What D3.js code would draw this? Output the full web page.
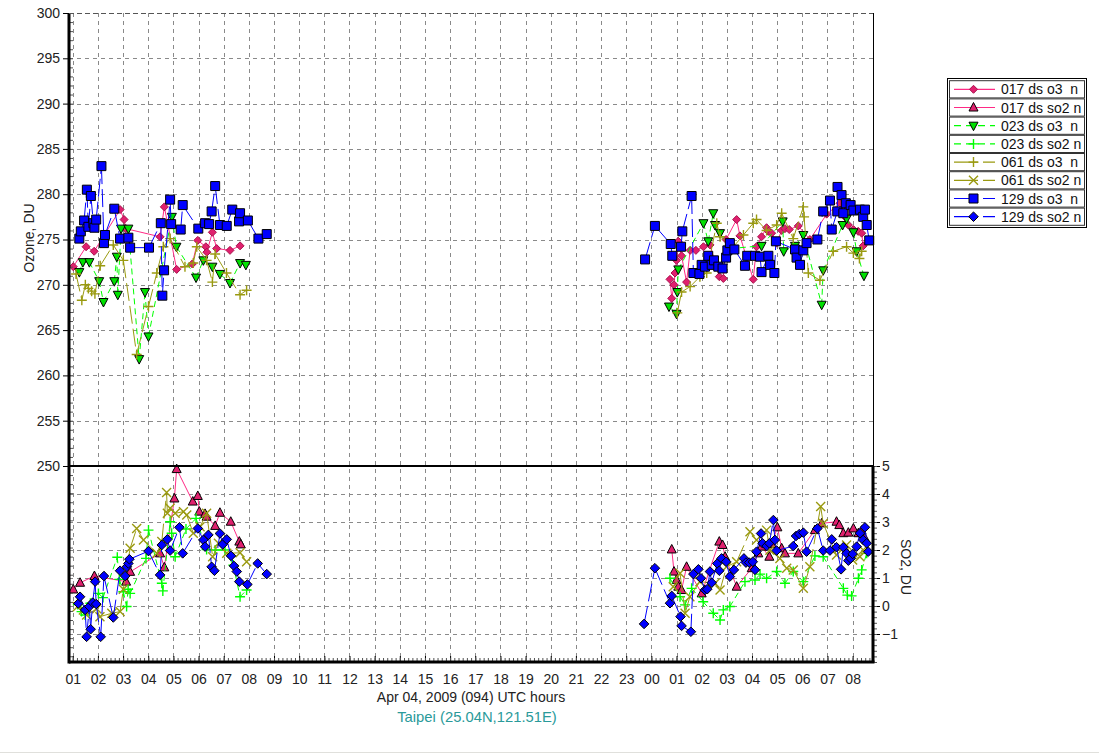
<!DOCTYPE html>
<html>
<head>
<meta charset="utf-8">
<script src="https://cdn.jsdelivr.net/npm/d3@7"></script>
<style>
body { margin: 0; background: #fff; }
text { font-family: "Liberation Sans", Arial, sans-serif; }
</style>
</head>
<body>
<div id="chart"></div>
<script>
const width = 1099;
const height = 753;

// hours since Apr 04 00 UTC, value
const o3_017 = [[1.02,272.0],[1.53,274.2],[1.85,273.7],[2.88,278.3],[3.04,277.2],[3.11,276.2],[4.47,275.3],[4.64,278.6],[5.13,271.7],[5.75,272.3],[5.97,274.9],[6.29,274.2],[6.33,273.6],[6.55,275.8],[6.72,274.0],[7.25,273.8],[7.65,274.3],
  [24.74,270.6],[24.81,268.5],[24.90,270.0],[24.94,271.3],[25.00,272.7],[25.07,274.8],[25.20,273.2],[25.40,270.3],[25.54,273.8],[25.77,273.8],[26.07,274.2],[26.33,274.4],[26.70,270.9],[26.86,270.7],[26.97,275.0],[27.39,277.2],[27.52,275.4],[28.05,270.6],[28.18,274.2],[28.38,275.3],[28.58,276.3],[28.65,275.9],[28.78,275.7],[28.98,274.6],[29.18,276.0],[29.31,276.2],[29.48,276.1],[29.84,276.5],[30.30,275.0],[30.97,277.8],[31.50,279.0],[31.70,277.5],[31.83,276.6],[32.03,276.1],[32.22,275.9],[32.36,275.7],[32.42,274.3]];

const so2_017 = [[1.02,0.59],[1.29,0.83],[1.86,1.07],[3.12,0.87],[3.28,1.22],[4.47,1.88],[4.64,1.38],[5.04,3.84],[5.13,4.89],[5.77,3.73],[5.97,3.93],[6.03,3.37],[6.26,3.29],[6.32,3.19],[6.66,2.86],[6.85,3.33],[7.28,3.01],[7.62,2.30],[7.68,2.20],
  [24.81,2.02],[24.90,1.23],[25.00,0.93],[25.07,0.69],[25.20,0.57],[25.40,1.40],[26.00,0.45],[26.70,2.30],[26.83,2.18],[26.93,1.76],[27.39,0.69],[27.99,1.35],[28.25,1.88],[28.38,2.12],[28.69,1.76],[28.78,2.21],[29.01,2.81],[29.18,2.06],[29.31,1.88],[29.84,1.88],[30.50,2.71],[30.77,2.95],[31.36,3.01],[31.47,2.89],[31.63,2.60],[31.83,2.62],[32.03,2.77],[32.23,2.60],[32.36,2.69],[32.49,2.42]];

const o3_023 = [[1.26,271.4],[1.40,272.5],[1.66,272.5],[2.05,270.4],[2.22,268.1],[2.65,270.4],[2.75,273.1],[2.79,268.9],[2.92,276.2],[3.21,276.2],[3.64,261.8],[3.87,269.2],[4.01,264.3],[4.94,277.5],[5.12,274.2],[5.90,270.8],[6.19,272.7],[6.55,272.0],[6.85,271.2],[7.25,270.2],[7.65,272.4],[7.88,272.2],
  [24.70,267.6],[25.00,266.8],[25.03,269.2],[25.07,271.7],[26.07,276.8],[26.26,274.8],[26.46,277.9],[26.53,276.6],[26.73,275.7],[27.12,274.0],[28.38,274.3],[29.22,277.0],[29.26,273.7],[29.71,274.3],[30.04,275.5],[30.77,267.8],[30.83,271.6],[31.60,276.6],[31.76,277.3],[32.03,275.8],[32.16,273.7],[32.45,271.0]];

const so2_023 = [[1.20,0.05],[1.35,-0.20],[1.49,-0.32],[1.70,0.10],[2.02,0.45],[2.20,0.30],[2.77,1.74],[2.85,0.95],[3.01,0.51],[3.14,-0.02],[3.20,0.60],[3.28,0.45],[3.91,1.70],[4.01,2.71],[4.54,0.81],[4.58,0.54],[4.87,3.01],[4.93,2.60],[5.07,1.76],[5.50,2.75],[5.90,3.13],[6.32,2.02],[6.66,2.00],[7.05,2.00],[7.38,1.46],[7.65,0.33],[7.91,0.57],
  [24.74,0.99],[25.14,0.33],[25.34,0.04],[25.60,0.63],[26.06,0.15],[26.46,-0.26],[26.73,-0.50],[26.86,-0.14],[27.12,-0.02],[27.72,0.87],[28.12,0.93],[28.32,1.14],[28.58,0.99],[28.98,1.23],[29.31,0.81],[29.64,1.23],[30.04,0.87],[30.50,1.79],[30.83,1.76],[31.63,0.63],[31.79,0.39],[31.96,0.36],[32.23,0.99],[32.36,1.29],[32.56,1.88]];

const o3_061 = [[1.13,271.2],[1.36,268.3],[1.50,270.0],[1.62,269.6],[1.75,269.3],[1.88,269.0],[2.09,272.1],[2.61,274.4],[3.01,272.7],[3.54,262.3],[4.01,267.6],[4.34,271.3],[4.60,274.2],[4.87,275.1],[5.46,272.0],[5.79,272.4],[5.93,274.2],[6.32,272.7],[6.55,270.3],[6.66,273.4],[7.11,271.3],[7.65,268.9],[7.91,269.4],
  [25.03,266.9],[25.20,269.2],[25.54,269.8],[25.93,270.9],[26.20,271.3],[26.60,276.8],[26.73,275.3],[27.26,274.2],[27.66,275.5],[28.05,276.8],[28.18,277.2],[28.58,276.0],[28.98,276.6],[29.18,277.9],[29.64,275.1],[30.04,278.6],[30.07,277.5],[30.24,271.3],[30.70,270.5],[31.23,273.7],[31.76,274.2],[32.03,273.5],[32.27,272.9],[32.36,273.7]];

const so2_061 = [[1.18,-0.03],[1.42,-0.14],[1.55,-0.32],[1.95,-0.10],[2.08,-0.38],[2.55,-0.26],[2.88,-0.20],[3.01,0.60],[3.28,2.06],[3.54,2.77],[3.81,2.36],[4.34,1.88],[4.54,2.30],[4.73,4.05],[4.76,3.31],[4.87,3.49],[5.07,3.31],[5.40,3.37],[5.53,3.25],[5.79,2.60],[6.06,2.83],[6.32,3.31],[6.56,1.76],[6.79,2.24],[7.12,1.88],[7.65,1.90],[7.91,1.58],
  [24.87,0.69],[25.14,1.17],[25.34,-0.26],[25.53,0.33],[25.93,0.87],[26.53,0.81],[26.73,0.57],[26.99,1.40],[27.39,1.58],[27.92,2.65],[28.18,2.36],[28.58,2.71],[28.71,1.99],[29.11,1.70],[29.38,1.35],[29.64,1.29],[30.04,0.63],[30.30,1.40],[30.73,3.55],[30.83,2.95],[31.36,1.82],[31.76,2.18],[32.00,1.64],[32.29,1.76],[32.42,2.00]];

const o3_129 = [[1.26,275.1],[1.32,275.9],[1.45,277.1],[1.56,280.5],[1.62,276.4],[1.72,279.8],[1.82,276.8],[1.86,276.3],[1.93,277.2],[2.14,283.1],[2.24,274.6],[2.28,275.5],[2.65,278.4],[2.88,275.1],[3.21,275.2],[3.28,274.1],[4.03,274.1],[4.50,276.8],[4.56,268.8],[4.63,271.6],[4.87,279.4],[4.91,276.7],[5.29,276.1],[5.37,278.8],[5.99,276.2],[6.26,276.8],[6.42,276.7],[6.52,278.1],[6.66,280.9],[6.85,276.6],[7.12,276.5],[7.34,278.3],[7.61,277.0],[7.65,277.9],[7.96,277.1],[8.38,275.1],[8.71,275.6],
  [23.75,272.8],[24.14,276.5],[24.77,274.5],[24.83,273.2],[25.18,274.2],[25.23,275.9],[25.60,279.8],[25.67,271.3],[25.91,271.2],[26.00,272.2],[26.13,272.0],[26.26,273.2],[26.40,272.2],[26.49,272.7],[26.66,272.0],[26.83,271.8],[26.97,273.0],[27.02,273.8],[27.12,274.6],[27.30,273.9],[27.72,272.1],[27.81,273.2],[28.12,273.2],[28.32,273.1],[28.38,271.4],[28.65,273.2],[28.72,272.2],[28.89,271.3],[28.95,274.8],[29.71,273.9],[29.77,273.0],[29.91,272.2],[30.04,273.8],[30.17,274.6],[30.60,275.0],[30.83,278.1],[31.10,279.3],[31.17,276.1],[31.39,278.1],[31.40,280.8],[31.56,279.9],[31.63,277.9],[31.73,279.0],[31.92,278.8],[32.03,278.2],[32.29,278.3],[32.42,277.5],[32.49,278.3],[32.56,276.6],[32.66,274.9]];

const so2_129 = [[1.22,0.09],[1.29,0.33],[1.49,-0.14],[1.55,-1.10],[1.66,-0.02],[1.71,-0.83],[1.79,0.12],[1.89,0.87],[1.93,0.07],[2.11,-1.10],[2.24,1.07],[2.61,-0.41],[2.88,1.26],[3.08,1.07],[3.15,1.40],[3.21,1.52],[3.25,1.67],[4.01,1.96],[4.47,1.11],[4.54,2.18],[4.76,2.38],[4.87,1.98],[5.24,2.81],[5.37,1.88],[5.97,2.77],[6.19,2.36],[6.26,2.12],[6.39,2.54],[6.52,1.40],[6.63,1.26],[6.85,2.59],[6.96,2.20],[7.12,2.38],[7.29,1.79],[7.41,1.43],[7.52,1.23],[7.62,0.87],[7.94,0.77],[8.35,1.52],[8.71,1.14],
  [23.71,-0.64],[24.14,1.35],[24.74,0.10],[24.81,0.36],[25.16,-0.38],[25.20,-0.71],[25.57,-0.92],[25.67,1.14],[25.87,1.31],[25.97,0.99],[26.13,0.57],[26.22,0.60],[26.33,1.23],[26.40,0.83],[26.62,1.52],[26.70,1.26],[26.79,1.70],[26.97,1.58],[27.12,1.05],[27.28,1.29],[27.68,1.70],[27.76,1.55],[27.89,1.55],[28.03,1.58],[28.12,1.29],[28.18,1.94],[28.36,2.59],[28.42,2.24],[28.58,2.14],[28.69,2.24],[28.85,3.07],[28.91,2.36],[28.98,1.98],[29.64,2.14],[29.75,2.50],[29.88,2.57],[30.04,2.62],[30.17,1.94],[30.60,2.77],[30.83,1.98],[31.10,1.98],[31.17,2.38],[31.36,2.10],[31.54,1.31],[31.63,2.10],[31.76,1.88],[31.83,1.62],[31.92,1.70],[32.00,1.86],[32.16,2.12],[32.29,2.60],[32.42,2.36],[32.49,2.81],[32.56,2.24],[32.62,1.94]];

const hourLabels = ["01","02","03","04","05","06","07","08","09","10","11","12","13","14","15","16","17","18","19","20","21","22","23","00","01","02","03","04","05","06","07","08"];
const o3Ticks = [250, 255, 260, 265, 270, 275, 280, 285, 290, 295, 300];
const so2Ticks = [-1, 0, 1, 2, 3, 4, 5];
const seriesNames = ["017 ds o3  n", "017 ds so2 n", "023 ds o3  n", "023 ds so2 n", "061 ds o3  n", "061 ds so2 n", "129 ds o3  n", "129 ds so2 n"];

const plotLeft = 69, plotRight = 873, plotTop = 13, plotMid = 466, plotBottom = 662;

const x = d3.scaleLinear().domain([0.85, 32.81]).range([plotLeft, plotRight]);
const yO3 = d3.scaleLinear().domain([250, 300]).range([plotMid, plotTop]);
const ySO2 = d3.scaleLinear().domain([-2, 5]).range([plotBottom, plotMid]);

const pink = "#ff2a85", green = "#00ff00", olive = "#9a9a10", blue = "#0000ff";
const styles = [
    {data: o3_017, y: yO3, color: pink, dash: null, marker: "diamondS", fill: "#e0206e", stroke: "#a8104c"},
    {data: so2_017, y: ySO2, color: pink, dash: null, marker: "triUp", fill: "#e0206e", stroke: "#000"},
    {data: o3_023, y: yO3, color: green, dash: "6,4", marker: "triDown", fill: "#00e000", stroke: "#000"},
    {data: so2_023, y: ySO2, color: green, dash: "6,4", marker: "plus", fill: "none", stroke: green},
    {data: o3_061, y: yO3, color: olive, dash: "18,5", marker: "plus", fill: "none", stroke: olive},
    {data: so2_061, y: ySO2, color: olive, dash: "18,5", marker: "cross", fill: "none", stroke: olive},
    {data: o3_129, y: yO3, color: blue, dash: "18,5", marker: "square", fill: "#0000ff", stroke: "#000"},
    {data: so2_129, y: ySO2, color: blue, dash: "18,5", marker: "diamond", fill: "#0000ff", stroke: "#000"}
];

function markerPath(type, cx, cy) {
    const p = d3.path();
    if (type === "square") {
        p.rect(cx - 4.5, cy - 4.5, 9, 9);
    } else if (type === "diamond" || type === "diamondS") {
        const r = type === "diamond" ? 4.8 : 4;
        p.moveTo(cx, cy - r); p.lineTo(cx + r, cy); p.lineTo(cx, cy + r); p.lineTo(cx - r, cy); p.closePath();
    } else if (type === "triUp") {
        p.moveTo(cx, cy - 5); p.lineTo(cx + 4.5, cy + 3.5); p.lineTo(cx - 4.5, cy + 3.5); p.closePath();
    } else if (type === "triDown") {
        p.moveTo(cx, cy + 5); p.lineTo(cx + 4.5, cy - 3.5); p.lineTo(cx - 4.5, cy - 3.5); p.closePath();
    } else if (type === "plus") {
        p.moveTo(cx - 5, cy); p.lineTo(cx + 5, cy); p.moveTo(cx, cy - 5); p.lineTo(cx, cy + 5);
    } else if (type === "cross") {
        p.moveTo(cx - 4.5, cy - 4.5); p.lineTo(cx + 4.5, cy + 4.5); p.moveTo(cx + 4.5, cy - 4.5); p.lineTo(cx - 4.5, cy + 4.5);
    }
    return p.toString();
}

const svg = d3.select("#chart").append("svg")
    .attr("width", width)
    .attr("height", height);

// grid
const grid = svg.append("g").attr("stroke", "#8a8a8a").attr("stroke-width", 1).attr("stroke-dasharray", "4,4");
grid.append("g").selectAll("line").data(hourLabels).join("line")
    .attr("x1", (d, i) => Math.round(x(i + 1)) + 0.5).attr("x2", (d, i) => Math.round(x(i + 1)) + 0.5)
    .attr("y1", plotTop).attr("y2", plotBottom);
grid.append("g").selectAll("line").data(o3Ticks.filter(d => d > 250 && d < 300)).join("line")
    .attr("x1", plotLeft).attr("x2", plotRight)
    .attr("y1", d => Math.round(yO3(d)) + 0.5).attr("y2", d => Math.round(yO3(d)) + 0.5);
grid.append("g").selectAll("line").data(so2Ticks.filter(d => d < 5)).join("line")
    .attr("x1", plotLeft).attr("x2", plotRight)
    .attr("y1", d => Math.round(ySO2(d)) + 0.5).attr("y2", d => Math.round(ySO2(d)) + 0.5);

// series
const plot = svg.append("g");
styles.forEach(s => {
    const g = plot.append("g");
    const line = d3.line().x(d => x(d[0])).y(d => s.y(d[1]));
    for (let i = 1; i < s.data.length; i++) {
        const a = s.data[i - 1], b = s.data[i];
        if (b[0] - a[0] > 3) continue;
        g.append("path")
            .attr("d", line([a, b]))
            .attr("fill", "none")
            .attr("stroke", s.color)
            .attr("stroke-width", 1)
            .attr("stroke-dasharray", s.dash);
    }
    g.selectAll("path.m").data(s.data).join("path")
        .attr("class", "m")
        .attr("d", d => markerPath(s.marker, x(d[0]), s.y(d[1])))
        .attr("fill", s.fill)
        .attr("stroke", s.stroke)
        .attr("stroke-width", (s.marker === "plus" || s.marker === "cross") ? 1.4 : 1);
});

// axes
const axisFont = g => g.selectAll("text").attr("font-size", 14).attr("fill", "#222").attr("font-family", "Liberation Sans, Arial, sans-serif");

svg.append("g").attr("transform", `translate(${plotLeft - 1},0)`)
    .call(d3.axisLeft(yO3).tickValues(o3Ticks).tickSize(5).tickPadding(3))
    .call(g => g.select(".domain").remove())
    .call(axisFont);
svg.append("g").attr("transform", `translate(${plotLeft + 1},0)`)
    .call(d3.axisRight(yO3).tickValues(d3.range(229, 301, 1)).tickSize(3).tickFormat(""))
    .call(g => g.select(".domain").remove())
    .call(g => g.selectAll("line").attr("stroke", "#555"));

svg.append("g").attr("transform", `translate(${plotRight + 1},0)`)
    .call(d3.axisRight(ySO2).tickValues(so2Ticks).tickSize(6).tickPadding(2).tickFormat(d3.format("d")))
    .call(g => g.select(".domain").remove())
    .call(axisFont);
svg.append("g").attr("transform", `translate(${plotRight + 1},0)`)
    .call(d3.axisRight(ySO2).tickValues(d3.range(-2, 5.01, 0.2)).tickSize(3).tickFormat(""))
    .call(g => g.select(".domain").remove())
    .call(g => g.selectAll("line").attr("stroke", "#555"));

svg.append("g").attr("transform", `translate(0,${plotBottom - 1})`)
    .call(d3.axisBottom(x).tickValues(hourLabels.map((d, i) => i + 1)).tickSize(-5).tickPadding(13)
        .tickFormat((d, i) => hourLabels[i]))
    .call(g => g.select(".domain").remove())
    .call(axisFont);
svg.append("g").attr("transform", `translate(0,${plotBottom - 1})`)
    .call(d3.axisBottom(x).tickValues(d3.range(1, 32.81, 1 / 6)).tickSize(-3).tickFormat(""))
    .call(g => g.select(".domain").remove())
    .call(g => g.selectAll("line").attr("stroke", "#555"));

// frame
svg.append("line").attr("x1", plotLeft).attr("x2", plotLeft).attr("y1", plotTop).attr("y2", plotBottom + 1.5)
    .attr("stroke", "#000").attr("stroke-width", 3);
svg.append("line").attr("x1", plotLeft).attr("x2", plotRight + 1.5).attr("y1", plotBottom).attr("y2", plotBottom)
    .attr("stroke", "#000").attr("stroke-width", 3);
svg.append("line").attr("x1", plotRight + 0.5).attr("x2", plotRight + 0.5).attr("y1", plotTop).attr("y2", plotMid)
    .attr("stroke", "#000").attr("stroke-width", 1);
svg.append("line").attr("x1", plotRight).attr("x2", plotRight).attr("y1", plotMid).attr("y2", plotBottom)
    .attr("stroke", "#000").attr("stroke-width", 3);
svg.append("line").attr("x1", plotLeft).attr("x2", plotRight).attr("y1", plotMid).attr("y2", plotMid)
    .attr("stroke", "#000").attr("stroke-width", 2);
svg.append("line").attr("x1", plotLeft).attr("x2", plotRight).attr("y1", plotTop + 0.5).attr("y2", plotTop + 0.5)
    .attr("stroke", "#555").attr("stroke-width", 1).attr("stroke-dasharray", "5,3");

// titles
svg.append("text").attr("x", 471).attr("y", 702).attr("text-anchor", "middle")
    .attr("font-size", 14).attr("fill", "#222").text("Apr 04, 2009 (094) UTC hours");
svg.append("text").attr("x", 477).attr("y", 722).attr("text-anchor", "middle")
    .attr("font-size", 14.8).attr("fill", "#2a9a9a").text("Taipei (25.04N,121.51E)");
svg.append("text").attr("transform", "translate(34,238) rotate(-90)").attr("text-anchor", "middle")
    .attr("font-size", 14).attr("fill", "#222").text("Ozone, DU");
svg.append("text").attr("transform", "translate(901,567) rotate(90)").attr("text-anchor", "middle")
    .attr("font-size", 14).attr("fill", "#222").text("SO2, DU");

// legend
const lg = svg.append("g");
const rowH = 18.2, legTop = 80.2;
lg.append("rect").attr("x", 947.5).attr("y", 78.5).attr("width", 139).attr("height", 149)
    .attr("fill", "#fff").attr("stroke", "#000");
seriesNames.forEach((name, i) => {
    const s = styles[i];
    const cy = legTop + rowH * i + rowH / 2;
    lg.append("rect").attr("x", 949.5).attr("y", legTop + rowH * i + 0.5).attr("width", 135).attr("height", rowH - 1)
        .attr("fill", "none").attr("stroke", "#333");
    lg.append("line").attr("x1", 954).attr("x2", 995).attr("y1", cy).attr("y2", cy)
        .attr("stroke", s.color).attr("stroke-width", 1.2)
        .attr("stroke-dasharray", s.dash === "6,4" ? "7,5" : (s.dash ? "24,5" : null));
    lg.append("path").attr("d", markerPath(s.marker, 973.5, cy))
        .attr("fill", s.fill).attr("stroke", s.stroke)
        .attr("stroke-width", (s.marker === "plus" || s.marker === "cross") ? 1.4 : 1);
    lg.append("text").attr("x", 1001).attr("y", cy + 5).attr("font-size", 14).attr("fill", "#111")
        .attr("xml:space", "preserve").style("white-space", "pre").text(name);
});

// bottom separator
svg.append("line").attr("x1", 0).attr("x2", width).attr("y1", 752.5).attr("y2", 752.5)
    .attr("stroke", "#e0e0dc");
</script>
</body>
</html>
